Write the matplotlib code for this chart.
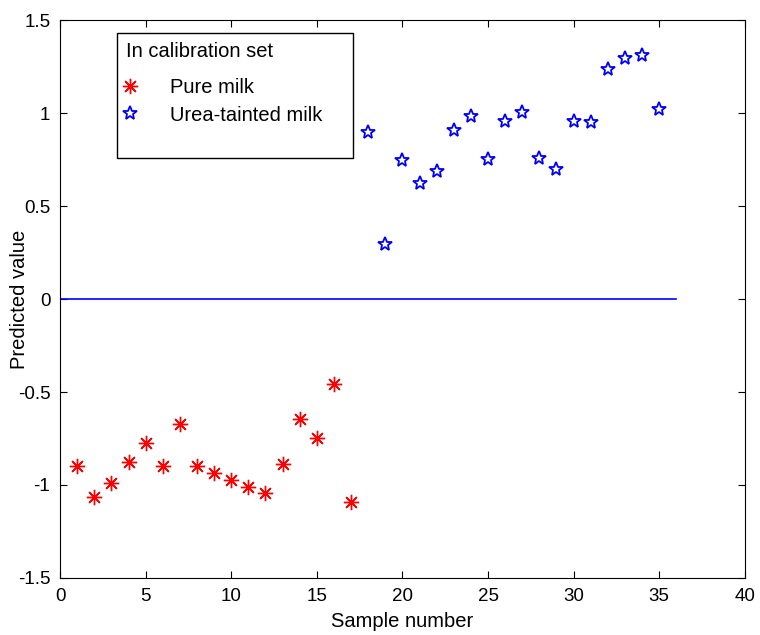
import matplotlib.pyplot as plt
from matplotlib.lines import Line2D

# predicted values per sample (PLS-DA style output)
pure_x = list(range(1, 18))
pure_y = [-0.90, -1.065, -0.99, -0.876, -0.774, -0.90, -0.672, -0.898, -0.935,
          -0.973, -1.01, -1.043, -0.887, -0.645, -0.747, -0.457, -1.09]
urea_x = list(range(18, 36))
urea_y = [0.898, 0.296, 0.747, 0.624, 0.688, 0.909, 0.984, 0.753, 0.957,
          1.005, 0.758, 0.699, 0.957, 0.952, 1.237, 1.296, 1.312, 1.022]
threshold_x = [0, 36]
threshold_y = [0, 0]

plt.rcParams['font.family'] = ['Liberation Sans', 'DejaVu Sans']
plt.rcParams['font.size'] = 14.5

fig = plt.figure(figsize=(7.6, 6.35), dpi=100)
ax = fig.add_axes([0.079, 0.09, 0.901, 0.878])

ax.plot(pure_x, pure_y, linestyle='none', marker=(8, 2, 0), markersize=11,
        markeredgewidth=1.0, color='red', label='Pure milk')
ax.plot(urea_x, urea_y, linestyle='none', marker='*', markersize=10,
        markerfacecolor='none', markeredgewidth=1.3, color='blue',
        label='Urea-tainted milk')
ax.plot(threshold_x, threshold_y, color='blue', linewidth=1.2)

ax.set_xlim(0, 40)
ax.set_ylim(-1.5, 1.5)
ax.set_xticks(range(0, 41, 5))
ax.set_yticks([-1.5, -1, -0.5, 0, 0.5, 1, 1.5])
ax.set_yticklabels(['-1.5', '-1', '-0.5', '0', '0.5', '1', '1.5'])
ax.tick_params(direction='in', length=5, top=True, right=True, labelsize=13.5)
ax.tick_params(axis='x', pad=7)
ax.tick_params(axis='y', pad=7)
ax.set_xlabel('Sample number')
ax.set_ylabel('Predicted value')
ax.xaxis.set_label_coords(0.5, -0.061)
ax.yaxis.set_label_coords(-0.046, 0.5)

# blank row keeps the empty space at the bottom of the legend box
handles, labels = ax.get_legend_handles_labels()
handles.append(Line2D([], [], linestyle='none'))
labels.append(' ')
leg = ax.legend(handles, labels, title='In calibration set', loc='upper left',
                bbox_to_anchor=(0.0832, 0.0, 0.3445, 0.9767), mode='expand',
                fancybox=False, edgecolor='black', framealpha=1,
                alignment='left', borderpad=0.45, handletextpad=1.8,
                labelspacing=0.4, borderaxespad=0, handlelength=0.4)
leg.get_frame().set_linewidth(1.0)
leg.get_title().set_fontsize(14.5)
leg.get_texts()[-1].set_fontsize(5)
# wider gap between the title and the entries
leg._legend_box.sep = 0.4 * 14.5 + 6.5

fig.savefig('out.png', dpi=100)
